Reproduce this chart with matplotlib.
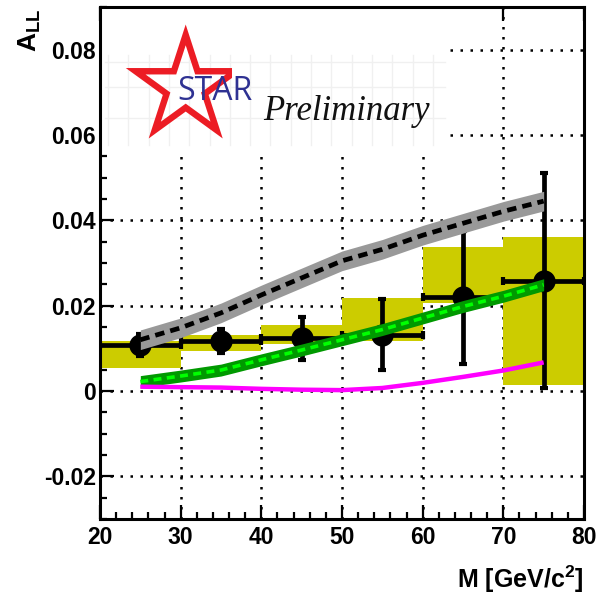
import numpy as np
import matplotlib
matplotlib.use("Agg")
import matplotlib.pyplot as plt
from matplotlib.patches import Rectangle, PathPatch
from matplotlib.path import Path
from matplotlib.ticker import MultipleLocator, FixedLocator, FixedFormatter

plt.rcParams['font.family'] = ['Liberation Sans', 'DejaVu Sans']
plt.rcParams['mathtext.fontset'] = 'custom'
plt.rcParams['mathtext.bf'] = 'Liberation Sans:bold'
plt.rcParams['mathtext.rm'] = 'Liberation Sans'
plt.rcParams['axes.unicode_minus'] = False

# measured points
mass = [25, 35, 45, 55, 65, 75]
a_ll = [0.0107, 0.0117, 0.0123, 0.0132, 0.0220, 0.0258]
stat_err = [0.0026, 0.0029, 0.0051, 0.0084, 0.0156, 0.0252]
bin_lo = [20, 30, 40, 50, 60, 70]
bin_hi = [30, 40, 50, 60, 70, 80]
sys_lo = [0.0053, 0.0093, 0.0111, 0.0116, 0.0206, 0.0014]
sys_hi = [0.0118, 0.0132, 0.0155, 0.0218, 0.0338, 0.0361]

# theory curves
m_curve = [25, 30, 35, 40, 45, 50, 55, 60, 65, 70, 75]
gray_curve = [0.0120, 0.0148, 0.0183, 0.0225, 0.0265, 0.0305, 0.0332, 0.0365, 0.0393, 0.0421, 0.0445]
gray_band = 0.0023
green_curve = [0.0022, 0.0035, 0.0049, 0.0073, 0.0096, 0.0120, 0.0144, 0.0171, 0.0198, 0.0222, 0.0249]
green_band = 0.0014
magenta_curve = [0.0010, 0.0009, 0.0008, 0.0005, 0.0003, 0.0002, 0.0007, 0.0019, 0.0033, 0.0048, 0.0067]

y_ticks = [-0.02, 0.0, 0.02, 0.04, 0.06, 0.08]
y_ticklabels = ['-0.02', '0', '0.02', '0.04', '0.06', '0.08']
x_ticks = [20, 30, 40, 50, 60, 70, 80]

fig = plt.figure(figsize=(6.06, 5.97), dpi=100)
ax = fig.add_axes([0.165, 0.1307, 0.7987, 0.8576])
ax.set_xlim(20, 80)
ax.set_ylim(-0.03, 0.09)

ax.set_axisbelow(True)
ax.grid(True, which='major', color='black', linestyle=(0, (1, 3)), linewidth=1.8)

# systematic boxes
for lo, hi, s0, s1 in zip(bin_lo, bin_hi, sys_lo, sys_hi):
    ax.add_patch(Rectangle((lo, s0), hi - lo, s1 - s0, facecolor='#cccc00',
                           edgecolor='none', zorder=2))

xerr = [(h - l) / 2 for l, h in zip(bin_lo, bin_hi)]
ax.errorbar(mass, a_ll, xerr=xerr, yerr=stat_err, fmt='o', color='black', ms=15,
            elinewidth=3.4, capsize=3, capthick=3, zorder=3)

gc = np.array(gray_curve)
ax.fill_between(m_curve, gc - gray_band, gc + gray_band, color='#999999', lw=0, zorder=4)
ax.plot(m_curve, gray_curve, color='black', lw=3.4, linestyle=(0, (2.0, 1.3)), zorder=5)

nc = np.array(green_curve)
ax.fill_between(m_curve, nc - green_band, nc + green_band, color='#009900', lw=0, zorder=4)
ax.plot(m_curve, green_curve, color='#00ff00', lw=2.6, linestyle=(0, (2.2, 1.5)), zorder=5)

ax.plot(m_curve, magenta_curve, color='#ff00ff', lw=3.2, zorder=5, solid_capstyle='butt')

# ticks
ax.xaxis.set_major_locator(FixedLocator(x_ticks))
ax.xaxis.set_minor_locator(MultipleLocator(2))
ax.yaxis.set_major_locator(FixedLocator(y_ticks))
ax.yaxis.set_major_formatter(FixedFormatter(y_ticklabels))
ax.yaxis.set_minor_locator(MultipleLocator(0.005))
ax.tick_params(which='both', direction='in', width=1.6, right=False)
ax.tick_params(which='major', length=10, top=True, labelsize=16.5)
ax.tick_params(which='minor', length=5, top=False)
ax.tick_params(axis='y', pad=3)
ax.tick_params(axis='x', pad=5)
for lab in ax.get_xticklabels() + ax.get_yticklabels():
    lab.set_fontweight('bold')
for sp in ax.spines.values():
    sp.set_linewidth(2.2)

ax.set_ylabel(r'$\mathbf{A_{LL}}$', fontsize=19, rotation=90, ha='right', va='center')
ax.yaxis.set_label_coords(-0.145, 0.996)
ax.set_xlabel(r'M [GeV/c$^{\mathbf{2}}$]', fontsize=18, fontweight='bold', ha='right')
ax.xaxis.set_label_coords(1.0, -0.088)

# STAR Preliminary logo (white box hiding the grid)
ax.add_patch(Rectangle((20, 0.0565), 43, 0.0335, facecolor='white', edgecolor='none', zorder=1))
tr = fig.dpi_scale_trans
H = 5.97
for xp in np.arange(108, 447, 20.3):
    ax.plot([xp / 100, xp / 100], [H - 0.55, H - 1.45], color='#f0f0f0', lw=1,
            transform=tr, zorder=1.1)
for yp in [62, 87, 118]:
    ax.plot([1.05, 4.45], [H - yp / 100, H - yp / 100], color='#f0f0f0', lw=1,
            transform=tr, zorder=1.1)


def star_pts(cx, cy, R, r):
    ang = np.pi / 2 + np.arange(10) * np.pi / 5
    rad = np.where(np.arange(10) % 2 == 0, R, r)
    return np.column_stack([cx + rad * np.cos(ang), cy + rad * np.sin(ang)])


cx, cy, R = 1.857, H - 0.875, 0.63
outer = star_pts(cx, cy, R, 0.382 * R)
k = 0.67
inner = star_pts(cx, cy, R * k, 0.382 * R * k)[::-1]
verts = np.vstack([outer, outer[:1], inner, inner[:1]])
codes = ([Path.MOVETO] + [Path.LINETO] * 9 + [Path.CLOSEPOLY]) * 2
star = PathPatch(Path(verts, codes), facecolor='#ec1c24', edgecolor='none',
                 transform=tr, zorder=1.2)
ax.add_patch(star)
clip = Rectangle((1.0, 4.0), 1.32, 2.0, transform=tr)
star.set_clip_path(clip)

ax.text(1.775, H - 1.00, 'STAR', transform=tr, fontsize=23, family=['Open Sans', 'DejaVu Sans'],
        color='#2e3192', ha='left', va='baseline', zorder=1.3)
ax.text(2.63, H - 1.20, 'Preliminary', transform=tr, fontsize=25, family=['Liberation Serif'],
        style='italic', color='#111111', ha='left', va='baseline', zorder=1.3)

fig.savefig('out.png', dpi=100)
